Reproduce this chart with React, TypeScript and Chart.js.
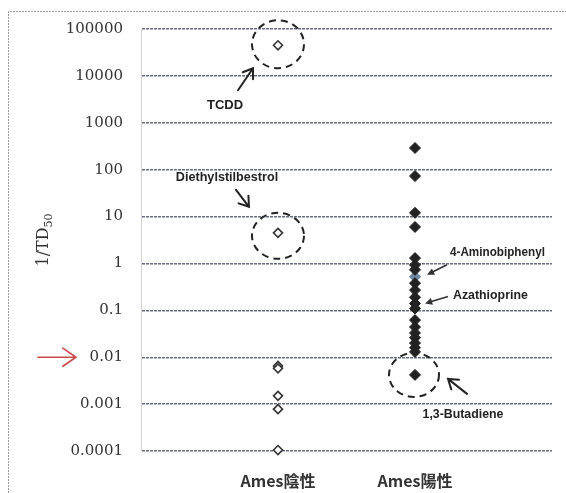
import { useEffect, useRef } from "react";
import { Chart, registerables } from "chart.js";
Chart.register(...registerables);

const categories = ["Ames陰性", "Ames陽性"];
const tickValues = [100000, 10000, 1000, 100, 10, 1, 0.1, 0.01, 0.001, 0.0001];
const tickLabels = ["100000", "10000", "1000", "100", "10", "1", "0.1", "0.01", "0.001", "0.0001"];
const amesNegative = [45000, 4.5, 0.0065, 0.0058, 0.0015, 0.00078, 0.000105];
const amesPositive = [290, 73, 12, 6, 1.3, 0.93, 0.73, 0.38, 0.27, 0.19, 0.14, 0.11, 0.062, 0.044, 0.033, 0.026, 0.02, 0.016, 0.013, 0.0042];
const aminobiphenylValue = [0.52];
const yTitle = "1/TD";
const ySub = "50";
const markedTick = 0.01;

const annotationPlugin = {
  id: "annot",
  afterDraw(chart: any) {
    const ctx = chart.ctx as CanvasRenderingContext2D;
    const xs = chart.scales.x;
    const ys = chart.scales.y;
    const P = (g: number, v: number) => ({ x: xs.getPixelForValue(g), y: ys.getPixelForValue(v) });
    ctx.save();
    // frame
    ctx.strokeStyle = "#9a9a9a";
    ctx.lineWidth = 1;
    ctx.setLineDash([2, 1]);
    ctx.beginPath();
    ctx.moveTo(8.5, 493);
    ctx.lineTo(8.5, 11.5);
    ctx.lineTo(566, 11.5);
    ctx.stroke();
    ctx.setLineDash([]);

    // y title
    ctx.save();
    ctx.translate(44, 240);
    ctx.rotate(-Math.PI / 2);
    ctx.fillStyle = "#333";
    ctx.textBaseline = "middle";
    ctx.font = '16px "DejaVu Serif"';
    const w1 = ctx.measureText(yTitle).width;
    ctx.font = '11px "DejaVu Serif"';
    const w2 = ctx.measureText(ySub).width;
    const start = -(w1 + w2) / 2;
    ctx.font = '16px "DejaVu Serif"';
    ctx.textAlign = "left";
    ctx.fillText(yTitle, start, 0);
    ctx.font = '11px "DejaVu Serif"';
    ctx.fillText(ySub, start + w1, 5);
    ctx.restore();

    const ellipse = (cx: number, cy: number, rx: number, ry: number) => {
      ctx.save();
      ctx.strokeStyle = "#222";
      ctx.lineWidth = 2;
      ctx.setLineDash([7, 5]);
      ctx.beginPath();
      ctx.ellipse(cx, cy, rx, ry, 0, 0, Math.PI * 2);
      ctx.stroke();
      ctx.restore();
    };
    const openArrow = (x1: number, y1: number, x2: number, y2: number, len: number, color: string, lw: number) => {
      const a = Math.atan2(y2 - y1, x2 - x1);
      ctx.save();
      ctx.strokeStyle = color;
      ctx.lineWidth = lw;
      ctx.lineCap = "round";
      ctx.beginPath();
      ctx.moveTo(x1, y1);
      ctx.lineTo(x2, y2);
      ctx.moveTo(x2 - len * Math.cos(a - 0.6), y2 - len * Math.sin(a - 0.6));
      ctx.lineTo(x2, y2);
      ctx.lineTo(x2 - len * Math.cos(a + 0.6), y2 - len * Math.sin(a + 0.6));
      ctx.stroke();
      ctx.restore();
    };
    const filledArrow = (x1: number, y1: number, x2: number, y2: number) => {
      const a = Math.atan2(y2 - y1, x2 - x1);
      ctx.save();
      ctx.strokeStyle = "#333";
      ctx.fillStyle = "#333";
      ctx.lineWidth = 1.6;
      ctx.beginPath();
      ctx.moveTo(x1, y1);
      ctx.lineTo(x2 - 5 * Math.cos(a), y2 - 5 * Math.sin(a));
      ctx.stroke();
      ctx.beginPath();
      ctx.moveTo(x2, y2);
      ctx.lineTo(x2 - 8 * Math.cos(a - 0.45), y2 - 8 * Math.sin(a - 0.45));
      ctx.lineTo(x2 - 8 * Math.cos(a + 0.45), y2 - 8 * Math.sin(a + 0.45));
      ctx.closePath();
      ctx.fill();
      ctx.restore();
    };
    const label = (t: string, x: number, y: number, align: CanvasTextAlign, sx: number) => {
      ctx.save();
      ctx.font = 'bold 13px "Liberation Sans"';
      ctx.fillStyle = "#222";
      ctx.textBaseline = "middle";
      ctx.translate(x, y);
      ctx.scale(sx, 1);
      ctx.textAlign = align;
      ctx.fillText(t, 0, 0);
      ctx.restore();
    };

    // TCDD
    const t = P(1, amesNegative[0]);
    ellipse(t.x, t.y - 1, 26, 24);
    openArrow(t.x - 40, t.y + 45, t.x - 25, t.y + 23, 11, "#222", 2);
    label("TCDD", t.x - 53, t.y + 60, "center", 1);

    // Diethylstilbestrol
    const d = P(1, amesNegative[1]);
    ellipse(d.x, d.y + 3, 26, 23);
    openArrow(d.x - 42, d.y - 43, d.x - 29, d.y - 26, 11, "#222", 2);
    label("Diethylstilbestrol", d.x - 51, d.y - 55, "center", 0.97);

    // 4-Aminobiphenyl
    const am = P(2, aminobiphenylValue[0]);
    filledArrow(am.x + 32, am.y - 12, am.x + 12, am.y - 2);
    label("4-Aminobiphenyl", am.x + 35, am.y - 24, "left", 0.9);

    // Azathioprine
    const az = P(2, amesPositive[10]);
    filledArrow(az.x + 33, az.y - 7, az.x + 10, az.y);
    label("Azathioprine", az.x + 38, az.y - 8, "left", 0.95);

    // 1,3-Butadiene
    const b = P(2, amesPositive[amesPositive.length - 1]);
    ellipse(b.x - 1, b.y, 25, 22);
    openArrow(b.x + 52, b.y + 19, b.x + 33, b.y + 4, 11, "#222", 2);
    label("1,3-Butadiene", b.x + 48, b.y + 40, "center", 0.95);

    // red arrow
    const ry = ys.getPixelForValue(markedTick);
    openArrow(38, ry, 76, ry, 16, "#c84a4a", 1.6);
    ctx.restore();
  },
};

export default function App() {
  const ref = useRef<HTMLCanvasElement>(null);
  useEffect(() => {
    if (!ref.current) return;
    const chart = new Chart(ref.current, {
      type: "scatter",
      data: {
        datasets: [
          {
            label: categories[0],
            data: amesNegative.map((v) => ({ x: 1, y: v })),
            pointStyle: "rectRot",
            pointRadius: 4.5,
            backgroundColor: "#ffffff",
            borderColor: "#333",
            borderWidth: 1.6,
            clip: false,
          },
          {
            label: categories[1],
            data: amesPositive.map((v) => ({ x: 2, y: v })),
            pointStyle: "rectRot",
            pointRadius: 5.5,
            backgroundColor: "#222",
            borderColor: "#222",
            borderWidth: 1,
            clip: false,
          },
          {
            label: "4-Aminobiphenyl",
            data: aminobiphenylValue.map((v) => ({ x: 2, y: v })),
            pointStyle: "rectRot",
            pointRadius: 5.5,
            backgroundColor: "#6f8ca6",
            borderColor: "#5c7890",
            borderWidth: 1,
            clip: false,
          },
        ],
      },
      options: {
        responsive: false,
        animation: false,
        devicePixelRatio: 1,
        layout: { padding: { top: 29, right: 14, left: 0, bottom: 0 } },
        plugins: { legend: { display: false }, tooltip: { enabled: false } },
        scales: {
          x: {
            type: "linear",
            min: 0,
            max: 3,
            afterBuildTicks: (s: any) => {
              s.ticks = [{ value: 1 }, { value: 2 }];
            },
            afterFit: (s: any) => {
              s.height = 42;
            },
            grid: { display: false, drawTicks: false },
            border: { display: false },
            ticks: {
              padding: 20,
              color: "#333",
              font: { family: '"Noto Sans CJK JP"', size: 16, weight: "bold" },
              callback: (v: any) => categories[Math.round(v) - 1] ?? "",
            },
          },
          y: {
            type: "logarithmic",
            min: 0.0001,
            max: 100000,
            afterBuildTicks: (s: any) => {
              s.ticks = tickValues.map((v) => ({ value: v }));
            },
            afterFit: (s: any) => {
              s.width = 141;
            },
            grid: {
              color: "rgba(85,92,112,0.9)",
              lineWidth: 1.4,
              drawTicks: false,
            },
            border: { display: true, color: "#d4d4d4", width: 1, dash: [3, 1] },
            ticks: {
              padding: 18,
              color: "#333",
              font: { family: '"DejaVu Serif"', size: 15 },
              callback: (v: any) => {
                const i = tickValues.findIndex((t) => Math.abs(Math.log10(t) - Math.log10(v)) < 1e-6);
                return i >= 0 ? tickLabels[i] : "";
              },
            },
          },
        },
      },
      plugins: [
        {
          id: "dashGrid",
          beforeDraw(chart: any) {
            const o = chart.options.scales.y.grid;
            o.borderDash = [3, 1];
          },
        },
        annotationPlugin,
      ],
    } as any);
    return () => chart.destroy();
  }, []);
  return (
    <div style={{ position: "absolute", left: 0, top: 0, width: 566, height: 493, background: "#fff" }}>
      <canvas ref={ref} width={566} height={493} />
    </div>
  );
}
